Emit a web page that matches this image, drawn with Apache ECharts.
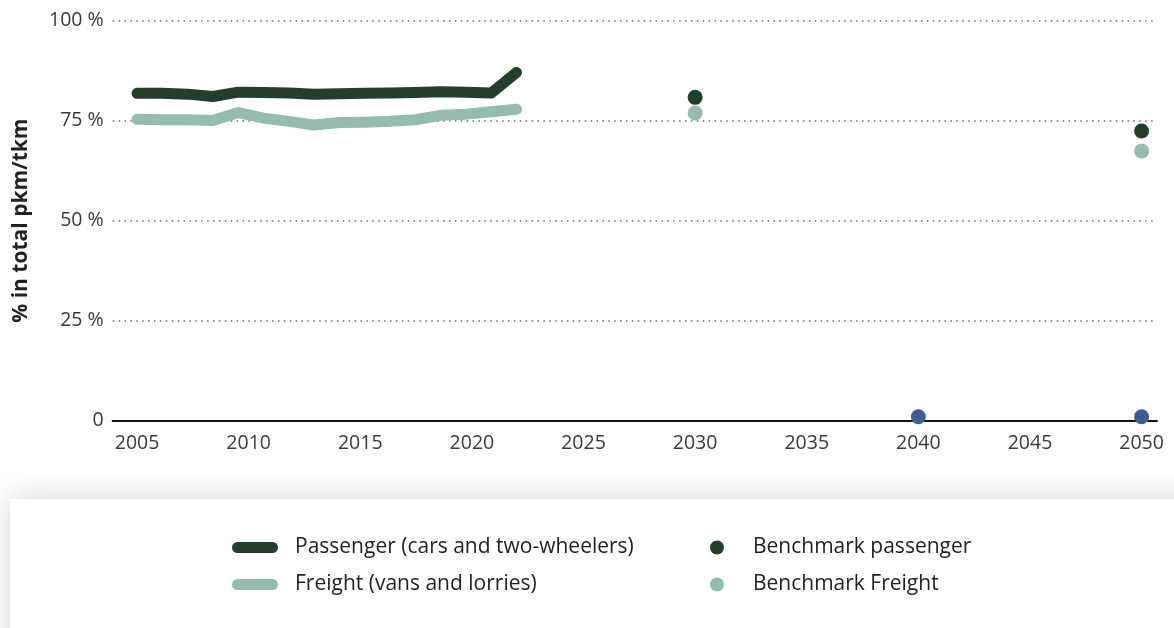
<!DOCTYPE html>
<html>
<head>
<meta charset="utf-8">
<script src="https://cdn.jsdelivr.net/npm/echarts@6/dist/echarts.min.js"></script>
<style>
html,body{margin:0;padding:0;background:#fff;}
#chart{width:1174px;height:628px;}
</style>
</head>
<body>
<div id="chart"></div>
<script>
// ---- data ----
const lineYears = [2005,2006,2007,2008,2009,2010,2011,2012,2013,2014,2015,2016,2017,2018,2019,2020];
const passenger = [81.8,81.8,81.6,81.0,82.1,82.0,81.9,81.6,81.7,81.8,81.9,82.0,82.2,82.1,81.9,87.0];
const freight   = [75.3,75.2,75.2,75.0,77.0,75.6,74.8,73.9,74.5,74.6,74.8,75.2,76.3,76.6,77.2,77.8];
const benchmarkYears = [2030, 2050];
const benchmarkPassenger = [80.8, 72.4];
const benchmarkFreight = [76.9, 67.4];
const otherYears = [2040, 2050];
const benchmarkOther = [1, 1];
const xTicks = [2005,2010,2015,2020,2025,2030,2035,2040,2045,2050];
const yTicks = [0,25,50,75,100];

const names = {
  passenger: 'Passenger (cars and two-wheelers)',
  freight: 'Freight (vans and lorries)',
  bPassenger: 'Benchmark passenger',
  bFreight: 'Benchmark Freight',
  other: 'Benchmark other'
};

// ---- layout / style ----
const DARK = '#233f2c', LIGHT = '#95bcb0', BLUE = '#3e5e92';
const xMin = 2003.91, xMax = 2050.69;
// the historical series are drawn stretched over 2005–2022 in the reference
const lineSpanEnd = 2022;
const k = (lineSpanEnd - lineYears[0]) / (lineYears[lineYears.length-1] - lineYears[0]);
const hMin = lineYears[0] - (lineYears[0] - xMin) / k;
const hMax = lineYears[0] + (xMax - lineYears[0]) / k;

const FONT = '"Open Sans", "Noto Sans", sans-serif';
const pair = (xs, ys) => xs.map((x, i) => [x, ys[i]]);

const chart = echarts.init(document.getElementById('chart'), null, {renderer: 'canvas'});
chart.setOption({
  animation: false,
  backgroundColor: '#fff',
  textStyle: {fontFamily: FONT},
  graphic: [{
    type: 'rect',
    shape: {x: 10, y: 499, width: 1250, height: 200},
    style: {fill: '#fff', shadowBlur: 28, shadowColor: 'rgba(0,0,0,0.16)', shadowOffsetX: 0, shadowOffsetY: -2},
    z: -10, silent: true
  }],
  grid: {left: 112.7, right: 17, top: 20.5, bottom: 207.3, containLabel: false},
  xAxis: [{
    type: 'value', min: xMin, max: xMax,
    axisLine: {show: true, onZero: false, lineStyle: {color: '#111', width: 2}},
    axisTick: {show: false},
    splitLine: {show: false},
    axisLabel: {
      customValues: xTicks, showMinLabel: true, showMaxLabel: true,
      color: '#3a3a3a', fontSize: 19.5, margin: 13, fontFamily: FONT,
      formatter: v => String(Math.round(v))
    }
  }, {
    type: 'value', min: hMin, max: hMax, show: false,
    splitLine: {show: false}
  }],
  yAxis: {
    type: 'value', min: 0, max: 100, interval: 25,
    name: '% in total pkm/tkm', nameLocation: 'middle', nameGap: 81, nameRotate: 90,
    nameTextStyle: {fontSize: 21, fontWeight: 'bold', color: '#222', fontFamily: FONT},
    axisLine: {show: false}, axisTick: {show: false},
    axisLabel: {
      color: '#3a3a3a', fontSize: 19.5, margin: 9, fontFamily: FONT,
      formatter: v => v === 0 ? '0' : v + ' %'
    },
    splitLine: {
      show: true,
      lineStyle: {color: '#6a6a6a', width: 1.5, type: [1.5, 4.4]},
      showMinLine: false
    }
  },
  legend: [{
    data: [names.passenger, names.freight],
    orient: 'vertical', left: 232, top: 537, itemGap: 16, padding: 0,
    itemWidth: 46, itemHeight: 11,
    icon: 'path://M5.5,0 H40.5 A5.5,5.5 0 0 1 40.5,11 H5.5 A5.5,5.5 0 0 1 5.5,0 Z',
    textStyle: {fontSize: 21, color: '#1f1f1f', lineHeight: 20, padding: [0,0,0,12], fontFamily: FONT},
    selectedMode: false
  }, {
    data: [names.bPassenger, names.bFreight],
    orient: 'vertical', left: 710, top: 537, itemGap: 16, padding: 0,
    itemWidth: 14, itemHeight: 14, icon: 'circle',
    textStyle: {fontSize: 21, color: '#1f1f1f', lineHeight: 20, padding: [0,0,0,24], fontFamily: FONT},
    selectedMode: false
  }],
  series: [{
    name: names.freight, type: 'line', xAxisIndex: 1,
    data: pair(lineYears, freight), showSymbol: false, symbol: 'none',
    lineStyle: {color: LIGHT, width: 11, cap: 'round', join: 'round'},
    itemStyle: {color: LIGHT}, z: 2
  }, {
    name: names.passenger, type: 'line', xAxisIndex: 1,
    data: pair(lineYears, passenger), showSymbol: false, symbol: 'none',
    lineStyle: {color: DARK, width: 11, cap: 'round', join: 'round'},
    itemStyle: {color: DARK}, z: 3
  }, {
    name: names.bFreight, type: 'scatter', xAxisIndex: 0,
    data: pair(benchmarkYears, benchmarkFreight), symbolSize: 15,
    itemStyle: {color: LIGHT, opacity: 1}, z: 4
  }, {
    name: names.bPassenger, type: 'scatter', xAxisIndex: 0,
    data: pair(benchmarkYears, benchmarkPassenger), symbolSize: 15,
    itemStyle: {color: DARK, opacity: 1}, z: 5
  }, {
    name: names.other, type: 'scatter', xAxisIndex: 0,
    data: pair(otherYears, benchmarkOther), symbolSize: 15,
    itemStyle: {color: BLUE, opacity: 1}, z: 6
  }]
});
</script>
</body>
</html>
